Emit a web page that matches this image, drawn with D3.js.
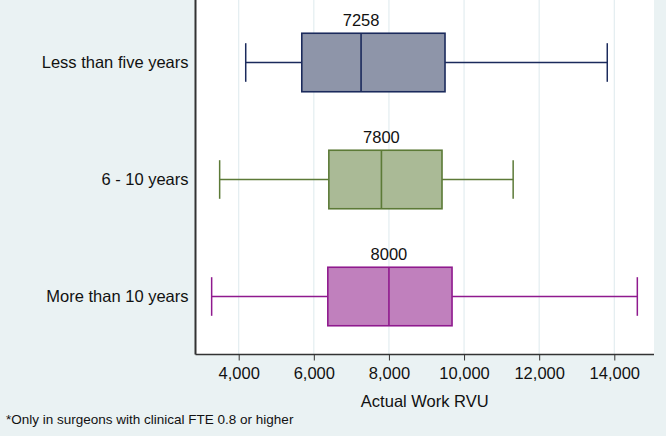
<!DOCTYPE html>
<html>
<head>
<meta charset="utf-8">
<script src="https://cdn.jsdelivr.net/npm/d3@7"></script>
<style>
  body { margin: 0; background: #eaf2f3; }
  svg { display: block; font-family: "Liberation Sans", Arial, sans-serif; }
</style>
</head>
<body>
<div id="chart"></div>
<script>
  // data
  const groups = ["Less than five years", "6 - 10 years", "More than 10 years"];
  const lowWhisker = [4187, 3493, 3280];
  const q1 = [5680, 6400, 6373];
  const median = [7258, 7800, 8000];
  const q3 = [9493, 9413, 9680];
  const highWhisker = [13813, 11307, 14613];
  const medianLabels = ["7258", "7800", "8000"];
  const xTicks = [4000, 6000, 8000, 10000, 12000, 14000];

  const fills = ["#8e95a9", "#aaba96", "#c080bd"];
  const strokes = ["#1b2a5c", "#5c7a37", "#8f1a8e"];

  (() => {
    const W = 666, H = 436;
    const pLeft = 195.5, pRight = 654, pTop = -2, pBottom = 354.5;

    const svg = d3.select("#chart").append("svg").attr("width", W).attr("height", H);

    const x = d3.scaleLinear().domain([2850, 15057]).range([pLeft, pRight]);
    const y = d3.scaleBand().domain(groups).range([4, 355]);

    // plot region
    svg.append("rect")
      .attr("x", pLeft).attr("y", pTop)
      .attr("width", pRight - pLeft).attr("height", pBottom - pTop)
      .attr("fill", "#fff");

    // grid
    svg.append("g")
      .selectAll("line")
      .data(xTicks)
      .join("line")
      .attr("x1", d => x(d)).attr("x2", d => x(d))
      .attr("y1", pTop).attr("y2", pBottom)
      .attr("stroke", "#e3edf0").attr("stroke-width", 1.2);

    const rows = groups.map((g, i) => ({
      g, lw: lowWhisker[i], q1: q1[i], med: median[i], q3: q3[i], hw: highWhisker[i],
      label: medianLabels[i], fill: fills[i], stroke: strokes[i]
    }));

    const bh = y.bandwidth() * 0.5;
    const capH = y.bandwidth() * 0.33;

    const box = svg.append("g")
      .selectAll("g")
      .data(rows)
      .join("g")
      .attr("transform", d => `translate(0,${y(d.g) + y.bandwidth() / 2})`);

    // whiskers
    box.append("line")
      .attr("x1", d => x(d.lw)).attr("x2", d => x(d.q1))
      .attr("stroke", d => d.stroke).attr("stroke-width", 1.5);
    box.append("line")
      .attr("x1", d => x(d.q3)).attr("x2", d => x(d.hw))
      .attr("stroke", d => d.stroke).attr("stroke-width", 1.5);
    box.append("line")
      .attr("x1", d => x(d.lw)).attr("x2", d => x(d.lw))
      .attr("y1", -capH / 2).attr("y2", capH / 2)
      .attr("stroke", d => d.stroke).attr("stroke-width", 1.5);
    box.append("line")
      .attr("x1", d => x(d.hw)).attr("x2", d => x(d.hw))
      .attr("y1", -capH / 2).attr("y2", capH / 2)
      .attr("stroke", d => d.stroke).attr("stroke-width", 1.5);

    // box + median
    box.append("rect")
      .attr("x", d => x(d.q1)).attr("y", -bh / 2)
      .attr("width", d => x(d.q3) - x(d.q1)).attr("height", bh)
      .attr("fill", d => d.fill)
      .attr("stroke", d => d.stroke).attr("stroke-width", 1.6);
    box.append("line")
      .attr("x1", d => x(d.med)).attr("x2", d => x(d.med))
      .attr("y1", -bh / 2).attr("y2", bh / 2)
      .attr("stroke", d => d.stroke).attr("stroke-width", 1.6);

    // median label
    box.append("text")
      .attr("x", d => x(d.med))
      .attr("y", -bh / 2 - 7)
      .attr("text-anchor", "middle")
      .attr("font-size", 16.5)
      .attr("fill", "#111")
      .text(d => d.label);

    // category axis
    const yAxis = svg.append("g")
      .attr("transform", `translate(${pLeft},0)`)
      .call(d3.axisLeft(y).tickSize(0).tickPadding(7));
    yAxis.select(".domain").remove();
    yAxis.selectAll("text").attr("font-size", 16.5).attr("fill", "#111");
    yAxis.attr("font-family", null);
    svg.append("line")
      .attr("x1", pLeft).attr("x2", pLeft).attr("y1", pTop).attr("y2", pBottom)
      .attr("stroke", "#333").attr("stroke-width", 2);

    // x axis
    const xAxis = svg.append("g")
      .attr("transform", `translate(0,${pBottom})`)
      .call(d3.axisBottom(x).tickValues(xTicks).tickSize(6).tickPadding(7).tickFormat(d3.format(",")));
    xAxis.attr("font-family", null);
    xAxis.select(".domain").attr("d", `M${pLeft},0H${pRight}`).attr("stroke", "#333").attr("stroke-width", 1.5);
    xAxis.selectAll(".tick line").attr("stroke", "#333");
    xAxis.selectAll("text").attr("font-size", 16.5).attr("fill", "#111");

    svg.append("text")
      .attr("x", (pLeft + pRight) / 2).attr("y", 407)
      .attr("text-anchor", "middle")
      .attr("font-size", 16.5).attr("fill", "#111")
      .text("Actual Work RVU");

    svg.append("text")
      .attr("x", 6).attr("y", 424)
      .attr("font-size", 13.5).attr("fill", "#111")
      .text("*Only in surgeons with clinical FTE 0.8 or higher");
  })();
</script>
</body>
</html>
